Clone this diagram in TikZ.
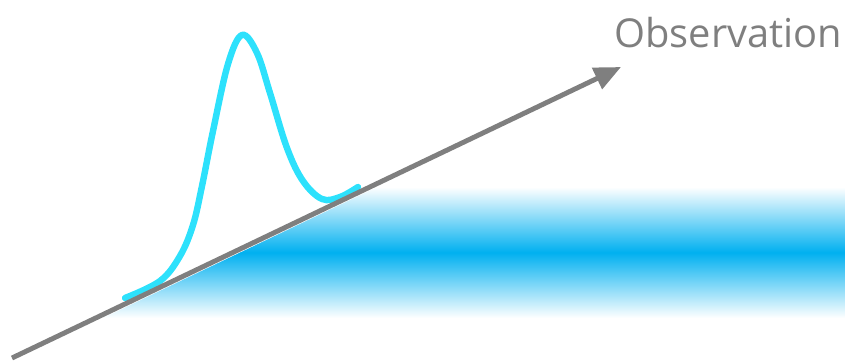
\documentclass[tikz,border=0pt]{standalone}
\usepackage{fontspec}
\setmainfont{Open Sans}
\usetikzlibrary{arrows.meta}
\definecolor{obsgray}{HTML}{7F7F7F}
\definecolor{obsblue}{HTML}{00B0F0}
\definecolor{obscyan}{HTML}{2DE1FC}

\begin{document}
\begin{tikzpicture}[x=0.03cm,y=-0.03cm] %One unit is one pixel of the 845 by 361 frame, y runs downwards
\useasboundingbox (0,0) rectangle (845,361); %Fixes the frame
\coordinate (start) at (12,358);
\coordinate (tip) at (621,67);
\begin{scope}
\clip (100,319.5) -- (380,185.7) -- (845,185.7) -- (845,319.5) -- cycle; %Band starts just under the arrow
\shade[top color=white,bottom color=white,middle color=obsblue] (0,187) rectangle (845,318); %Blue band
\end{scope}
\draw[obscyan,line width=5.5pt,line cap=round] plot[smooth,tension=0.6] coordinates {(125,298) (160,281) (180,256) (193,225) (202,186) (213,131) (228,64) (242,35) (257,53) (270,93) (287,148) (303,181) (322,199) (340,197) (358,187)}; %Skewed bell curve
\draw[obsgray,line width=4.2pt,-{Triangle[length=0.8cm,width=0.68cm]}] (start) -- (tip); %Observation axis
\node[obsgray,font=\fontsize{34}{40}\selectfont,anchor=base west,inner sep=0pt] (label) at (614,47) {Observation};
\end{tikzpicture}
\end{document}
